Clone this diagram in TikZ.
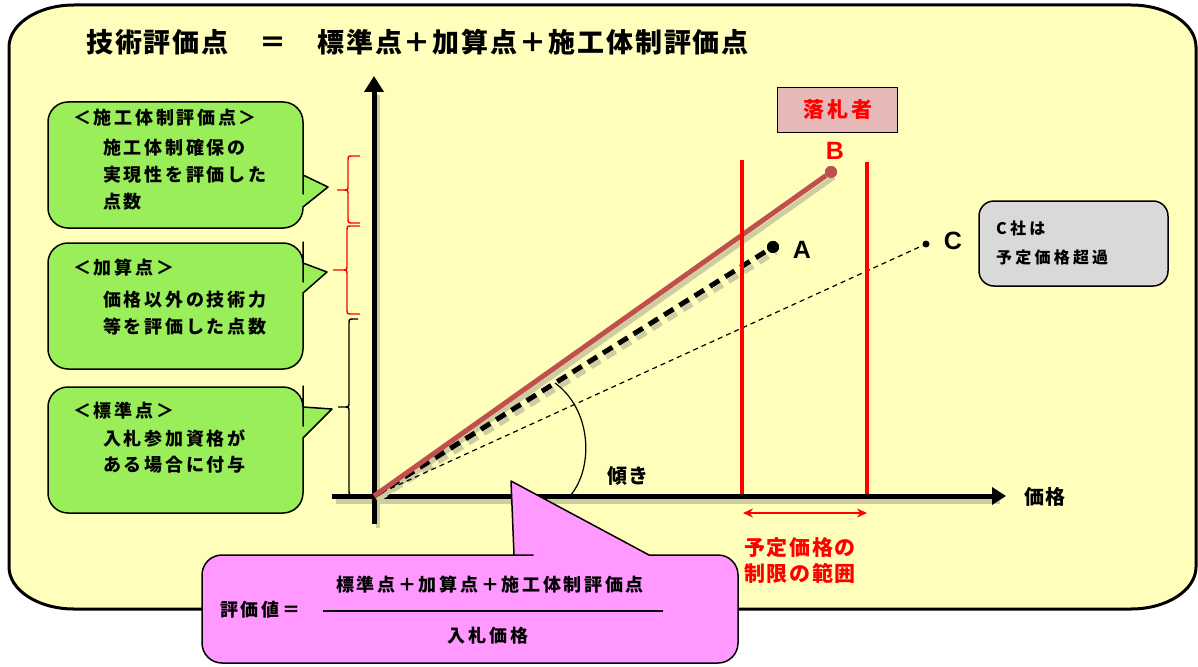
\documentclass[tikz,border=0pt]{standalone}
\usepackage{fontspec}
\setmainfont{Liberation Sans}
\newfontfamily\jp{Noto Sans CJK JP}
\usetikzlibrary{arrows.meta}
\definecolor{bgy}{RGB}{255,255,187}
\definecolor{bubg}{RGB}{153,238,90}
\definecolor{pinkb}{RGB}{255,153,255}
\definecolor{grayb}{RGB}{217,217,217}
\definecolor{rakub}{RGB}{230,185,184}
\definecolor{bline}{RGB}{192,80,77}
\definecolor{shad}{RGB}{205,205,160}
\definecolor{redc}{RGB}{255,0,0}
\newcommand\mybrace[6]{%
  (#1,#2) -- (#4+5,#2) .. controls (#4,#2) .. (#4,#2+5) -- (#4,#6-5) .. controls (#4,#6) .. (#4-5,#6) -- (#5,#6)
  (#4-5,#6) .. controls (#4,#6) .. (#4,#6+5) -- (#4,#3-5) .. controls (#4,#3) .. (#4+5,#3) -- (#1,#3)}
\begin{document}
\begin{tikzpicture}[x=1pt,y=-1pt,
  jtx/.style 2 args={font=\jp\bfseries\fontsize{#1}{#1}\selectfont\addfontfeatures{LetterSpace=#2}, inner sep=0pt},
  lat/.style={font=\bfseries\fontsize{#1}{#1}\selectfont, inner sep=0pt},
  gbub/.style={fill=bubg, draw=black, line width=1.5pt, line join=round},
  pbub/.style={fill=pinkb, draw=black, line width=1.5pt, line join=round},
  axis/.style={line width=5pt},
  shadow/.style={draw=shad},
  redline/.style={draw=redc, line width=3.2pt},
  dot/.style={circle, inner sep=0pt, minimum size=#1}
]
\useasboundingbox (0,0) rectangle (1198,666);
% outer frame
\path[fill=bgy, draw=black, line width=3pt] (74,5) -- (1131,5) .. controls (1167,5) and (1196,24) .. (1196,47) -- (1196,567) .. controls (1196,590) and (1167,609) .. (1131,609) -- (74,609) .. controls (38,609) and (9,590) .. (9,567) -- (9,47) .. controls (9,24) and (38,5) .. (74,5) -- cycle;
% title
\node[jtx={27}{7}, anchor=west] (title) at (86,42) {技術評価点　＝　標準点＋加算点＋施工体制評価点};
% green bubbles
\draw[gbub] (328,187) -- (303,207) -- (303,208) [rounded corners=20pt] -- (303,228) -- (48,228) -- (48,102) -- (303,102) -- (303,174) [sharp corners] -- (303,175) -- cycle;
\draw[gbub] (327,272) -- (303,293) -- (303,294) [rounded corners=20pt] -- (303,369) -- (48,369) -- (48,243) -- (303,243) -- (303,262) [sharp corners] -- (303,263) -- cycle;
\draw[gbub] (332,409) -- (303,438) -- (303,439) [rounded corners=20pt] -- (303,513) -- (48,513) -- (48,387) -- (303,387) -- (303,406) [sharp corners] -- (303,407) -- cycle;
\node[jtx={18}{15}, anchor=west] (g1h) at (73,118) {＜施工体制評価点＞};
\node[jtx={18}{15}, anchor=west] (g1a) at (103,148) {施工体制確保の};
\node[jtx={18}{15}, anchor=west] (g1b) at (103,175) {実現性を評価した};
\node[jtx={18}{15}, anchor=west] (g1c) at (103,202) {点数};
\node[jtx={18}{15}, anchor=west] (g2h) at (73,268) {＜加算点＞};
\node[jtx={18}{15}, anchor=west] (g2a) at (103,300) {価格以外の技術力};
\node[jtx={18}{15}, anchor=west] (g2b) at (103,327) {等を評価した点数};
\node[jtx={18}{15}, anchor=west] (g3h) at (73,411) {＜標準点＞};
\node[jtx={18}{15}, anchor=west] (g3a) at (103,438) {入札参加資格が};
\node[jtx={18}{15}, anchor=west] (g3b) at (103,465) {ある場合に付与};
% braces
\draw[redc, line width=1.4pt] \mybrace{360}{156}{223}{348}{337}{190};
\draw[redc, line width=1.4pt] \mybrace{360}{226}{314}{347}{333}{270};
\draw[black, line width=1.4pt] \mybrace{358}{319}{495}{349}{338}{407};
% axes shadows
\draw[shadow, line width=5pt] (336,501) -- (1000,501);
\draw[shadow, line width=4pt] (378,95) -- (378,528);
% axes
\coordinate (O) at (374,496);
\draw[axis, -{Triangle[length=16pt,width=19pt]}] (374,524) -- (374,76);
\draw[axis, -{Triangle[length=14pt,width=17pt]}] (332,496) -- (1006,496);
% points
\node[dot=12pt, fill=bline] (b) at (831,172) {};
\node[dot=12pt, fill=black] (a) at (773,247) {};
\node[dot=7pt, fill=black] (c) at (926,244) {};
% data line shadows
\draw[shadow, line width=5pt] (377,500) -- (834,177);
\draw[shadow, line width=5pt, dash pattern=on 11pt off 7pt] (377,500) -- (776,252);
% data lines
\draw[black, line width=1.2pt, dash pattern=on 5pt off 4pt] (O) -- (c);
\draw[black, line width=5pt, dash pattern=on 11pt off 7pt] (O) -- (a);
\draw[bline, line width=5pt] (O) -- (b);
\node[dot=12pt, fill=bline] at (b) {};
\node[dot=12pt, fill=black] at (a) {};
% labels
\node[lat=25, text=redc] (bl) at (835,151) {B};
\node[lat=25] (al) at (802,250) {A};
\node[lat=25] (cl) at (953,241) {C};
% red range lines
\coordinate (r1t) at (742,160);
\coordinate (r1b) at (742,494);
\coordinate (r2t) at (867,162);
\coordinate (r2b) at (867,494);
\draw[redline] (r1t) -- (r1b);
\draw[redline] (r2t) -- (r2b);
\coordinate (d1) at (743,513);
\coordinate (d2) at (867,513);
\draw[redc, line width=1.5pt, {Stealth[length=10pt,width=9pt]}-{Stealth[length=10pt,width=9pt]}] (d1) -- (d2);
\node[jtx={21}{8}, anchor=west, text=redc] (rng1) at (744,548) {予定価格の};
\node[jtx={21}{8}, anchor=west, text=redc] (rng2) at (744,573) {制限の範囲};
% slope arc
\draw[black, line width=1.2pt] (570,496) .. controls (594,468) and (592,410) .. (555,383);
\node[jtx={20}{8}, anchor=west] (kat) at (607,476) {傾き};
\node[jtx={20}{8}, anchor=west] (kak) at (1024,497) {価格};
% rakusatsu box
\node[draw=black, line width=1pt, fill=rakub, minimum width=120pt, minimum height=44pt, inner sep=0pt] (raku) at (837,110) {};
\node[jtx={21}{14}, text=redc] (rakut) at (838,110) {落札者};
% C box
\node[draw=black, line width=1.5pt, fill=grayb, rounded corners=15pt, minimum width=189pt, minimum height=85pt, inner sep=0pt] (cbox) at (1073.5,243.5) {};
\node[jtx={16}{20}, anchor=west] (cb1) at (996,228) {C社は};
\node[jtx={16}{20}, anchor=west] (cb2) at (996,257) {予定価格超過};
% pink bubble
\draw[pbub] (511,481) -- (649,555) -- (650,555) [rounded corners=20pt] -- (738,555) -- (738,663) -- (202,663) -- (202,555) -- (513,555) [sharp corners] -- (514,555) -- cycle;
\node[jtx={18}{15}, anchor=west] (hyo) at (220,610) {評価値＝};
\node[jtx={18}{15}] (num) at (490,585) {標準点＋加算点＋施工体制評価点};
\coordinate (f1) at (323,611);
\coordinate (f2) at (663,611);
\draw[black, line width=1.3pt] (f1) -- (f2);
\node[jtx={18}{15}] (den) at (488,636) {入札価格};
\end{tikzpicture}
\end{document}
